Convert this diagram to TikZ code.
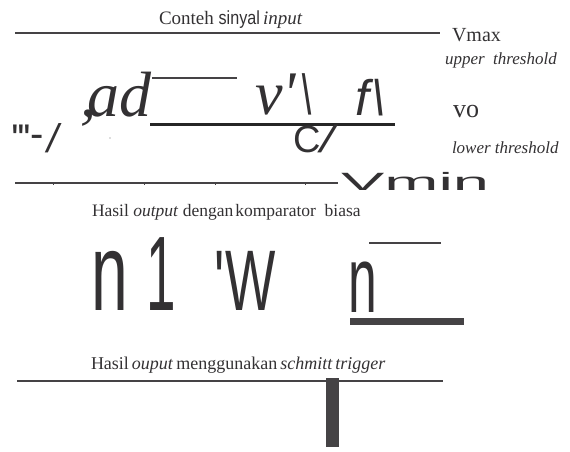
\documentclass[tikz,border=0pt]{standalone}
\usepackage{fontspec}
\usepackage{graphicx}
\setmainfont{Liberation Serif}
\setsansfont{Liberation Sans}
\definecolor{ink}{HTML}{333133}
\definecolor{rule}{HTML}{454345}
\newcommand{\fs}[1]{\fontsize{#1}{#1}\selectfont}
\begin{document}
\begin{tikzpicture}[x=1pt,y=-1pt,
  lbl/.style={inner sep=0pt, outer sep=0pt, anchor=base west, text=ink},
  thinrule/.style={draw=rule, line width=1.3pt},
  midrule/.style={draw=rule, line width=2pt},
  heavyrule/.style={draw=black!85, line width=3pt},
  barrule/.style={draw=rule, line width=7pt},
  tickmark/.style={draw=rule, line width=0.8pt}]
\useasboundingbox (0,0) rectangle (570,452);

% ---------- section 1: input signal ----------
\node[lbl] (t1) at (159,25) {\fs{19}Conteh \sffamily\scalebox{0.85}[1]{sinyal}\,\rmfamily\itshape input};
\coordinate (a1) at (15,33);
\coordinate (a2) at (440,33);
\draw[midrule] (a1) -- (a2);
\node[lbl] (vmax) at (452,42) {\fs{20}Vmax};
\node[lbl] (ut) at (445,65) {\fs{17}\itshape upper\ \ threshold};

\node[lbl] (ad) at (80,116) {\fs{64}\itshape ,\kern-9pt ad};
\coordinate (b1) at (152,78);
\coordinate (b2) at (237,78);
\draw[thinrule] (b1) -- (b2);
\node[lbl] (vq) at (255,114) {\fs{62}\itshape v\textquotesingle\kern2pt\textbackslash};
\node[lbl] (fq) at (355,115) {\fs{50}\sffamily\itshape f\kern3pt\textbackslash};
\coordinate (c1) at (150,124);
\coordinate (c2) at (395,124);
\draw[heavyrule] (c1) -- (c2);
\node[lbl] (vo) at (453,117) {\fs{26}vo};

\node[lbl] (qq) at (12,152) {\fs{40}\sffamily\textquotesingle\kern-2pt\textquotesingle\kern-2pt\textquotesingle\raisebox{5pt}{-}\kern3pt\itshape/};
\node[circle, fill=ink!70, inner sep=0pt, minimum size=1.4pt] (dot) at (110,138) {};
\node[lbl] (cs) at (293,152) {\fs{38}\sffamily C\kern0pt\scalebox{1.3}[1]{\itshape/}};
\node[lbl] (lt) at (452,153) {\fs{17}\itshape lower threshold};

\coordinate (d1) at (15,183);
\coordinate (d2) at (338,183);
\draw[thinrule] (d1) -- (d2);
\foreach \tx in {53,144,215,305}{
  \draw[tickmark] (\tx,182) -- (\tx,184.5);
}
\node[lbl] (vmin) at (341,190) {\scalebox{2.6}[1]{\fs{25}\sffamily Vmin}};

% ---------- section 2: ordinary comparator ----------
\node[lbl] (t2) at (92,216) {\fs{17.5}Hasil \textit{output} dengan\kern2pt komparator\ \ biasa};
\node[lbl] (n1a) at (91,310) {\scalebox{0.6}[1]{\fs{110}\sffamily n}};
\node[lbl] (n1b) at (146,310) {\scalebox{0.5}[1]{\fs{106}\sffamily 1}};
\node[lbl] (w1) at (214,310) {\scalebox{0.62}[1]{\fs{86}\sffamily\textquotesingle\kern2pt W}};
\node[lbl] (n2) at (348,312) {\scalebox{0.55}[1]{\fs{94}\sffamily n}};
\coordinate (e1) at (369,243);
\coordinate (e2) at (441,243);
\draw[midrule] (e1) -- (e2);
\coordinate (f1) at (350,321.5);
\coordinate (f2) at (464,321.5);
\draw[barrule] (f1) -- (f2);

% ---------- section 3: schmitt trigger ----------
\node[lbl] (t3) at (91,369) {\fs{18}Hasil\kern3pt\textit{ouput}\kern3pt menggunakan\kern3pt\textit{schmitt\kern3pt trigger}};
\coordinate (g1) at (17,381);
\coordinate (g2) at (443,381);
\draw[midrule] (g1) -- (g2);
\coordinate (h1) at (332.5,378);
\coordinate (h2) at (332.5,447);
\draw[draw=rule, line width=13pt] (h1) -- (h2);
\end{tikzpicture}
\end{document}
